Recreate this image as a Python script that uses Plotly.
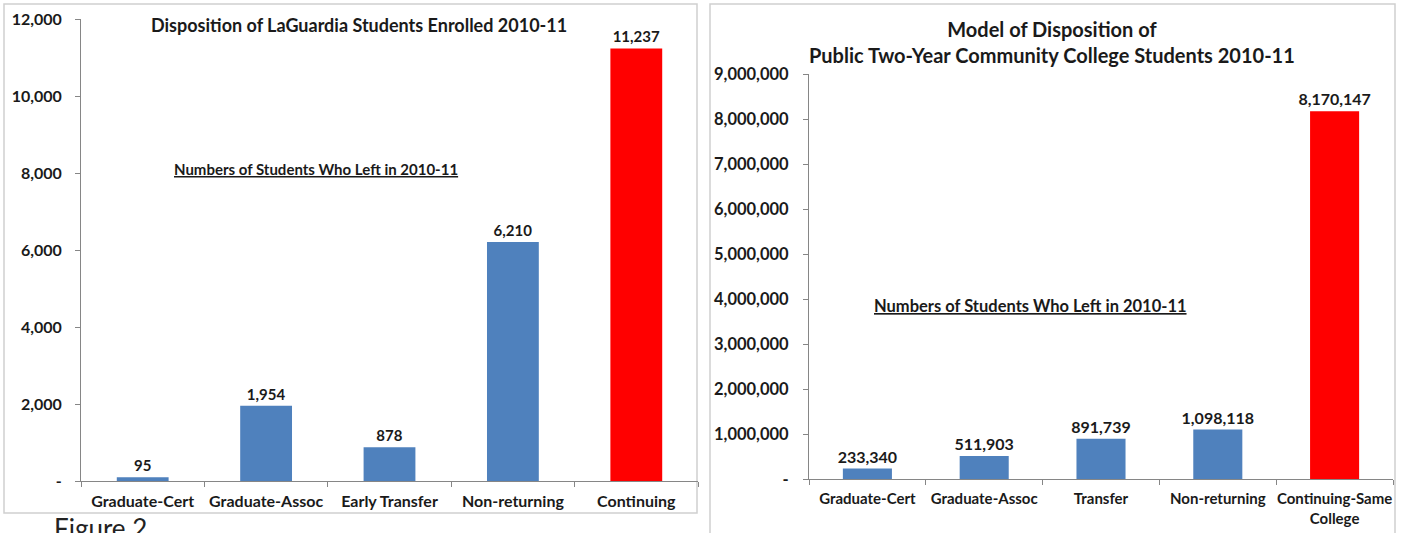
import plotly.graph_objects as go

# ---- data ----
left_categories = ["Graduate-Cert", "Graduate-Assoc", "Early Transfer", "Non-returning", "Continuing"]
left_values = [95, 1954, 878, 6210, 11237]
left_tickvals = [0, 2000, 4000, 6000, 8000, 10000, 12000]
left_ticktext = ["-", "2,000", "4,000", "6,000", "8,000", "10,000", "12,000"]

right_categories = ["Graduate-Cert", "Graduate-Assoc", "Transfer", "Non-returning", "Continuing-Same<br>College"]
right_values = [233340, 511903, 891739, 1098118, 8170147]
right_tickvals = [0, 1000000, 2000000, 3000000, 4000000, 5000000, 6000000, 7000000, 8000000, 9000000]
right_ticktext = ["-", "1,000,000", "2,000,000", "3,000,000", "4,000,000", "5,000,000",
                  "6,000,000", "7,000,000", "8,000,000", "9,000,000"]

left_title = "Disposition of LaGuardia Students Enrolled 2010-11"
right_title = "Model of Disposition of<br>Public Two-Year Community College Students 2010-11"
note_text = "Numbers of Students Who Left in 2010-11"
figure_caption = "Figure 2"

W, H = 1407, 533
BLUE = "#4F81BD"
RED = "#FF0000"
FONT = "Lato"
TXT = "#1a1a1a"

def px(x):
    return x / W

def py(y):
    return 1 - y / H

left_colors = [BLUE] * (len(left_values) - 1) + [RED]
right_colors = [BLUE] * (len(right_values) - 1) + [RED]

fig = go.Figure()
fig.add_trace(go.Bar(
    x=left_categories, y=left_values, xaxis="x", yaxis="y",
    marker=dict(color=left_colors, line=dict(width=0)),
    texttemplate="%{y:,}", textposition="outside", cliponaxis=False,
    constraintext="none",
    textfont=dict(family=FONT, size=15, color=TXT, weight="bold"),
    showlegend=False,
))
fig.add_trace(go.Bar(
    x=right_categories, y=right_values, xaxis="x2", yaxis="y2",
    marker=dict(color=right_colors, line=dict(width=0)),
    texttemplate="%{y:,}", textposition="outside", cliponaxis=False,
    constraintext="none",
    textfont=dict(family=FONT, size=16, color=TXT, weight="bold"),
    showlegend=False,
))

axis_common = dict(showline=True, linecolor="#868686", linewidth=1, showgrid=False,
                   zeroline=False, ticks="outside", tickcolor="#868686", ticklen=5,
                   automargin=False, tickangle=0)

fig.update_layout(
    width=W, height=H,
    margin=dict(l=0, r=0, t=0, b=0, autoexpand=False),
    paper_bgcolor="white", plot_bgcolor="white",
    bargap=0.58,
    font=dict(family=FONT, color=TXT),
    xaxis=dict(domain=[px(81), px(698)], anchor="y", tickson="boundaries",
               tickfont=dict(family=FONT, size=16, color=TXT, weight="bold"),
               ticklabelstandoff=6,
               **axis_common),
    yaxis=dict(domain=[py(481), py(19)], anchor="x", range=[0, 12000],
               tickvals=left_tickvals, ticktext=left_ticktext,
               ticklabelstandoff=10,
               tickfont=dict(family=FONT, size=16, color=TXT, weight="bold"),
               **axis_common),
    xaxis2=dict(domain=[px(809), px(1393)], anchor="y2", tickson="boundaries",
                tickfont=dict(family=FONT, size=15, color=TXT, weight="bold"),
                ticklabelstandoff=6,
                **axis_common),
    yaxis2=dict(domain=[py(479), py(74)], anchor="x2", range=[0, 9000000],
                tickvals=right_tickvals, ticktext=right_ticktext,
                ticklabelstandoff=11,
                tickfont=dict(family=FONT, size=16.5, color=TXT, weight="bold"),
                **axis_common),
    shapes=[
        dict(type="rect", xref="paper", yref="paper", x0=px(4), x1=px(697), y0=py(513), y1=py(4),
             line=dict(color="#d0d0d0", width=1.5), layer="below"),
        dict(type="rect", xref="paper", yref="paper", x0=px(710), x1=px(1395), y0=py(545), y1=py(4),
             line=dict(color="#d0d0d0", width=1.5), layer="below"),
    ],
    annotations=[
        dict(text=f"<b>{left_title}</b>", xref="paper", yref="paper", x=px(359), y=py(25),
             xanchor="center", yanchor="middle", showarrow=False,
             font=dict(family=FONT, size=18, color=TXT)),
        dict(text=f"<b>{right_title}</b>", xref="paper", yref="paper", x=px(1052), y=py(42),
             xanchor="center", yanchor="middle", showarrow=False,
             font=dict(family=FONT, size=20, color=TXT)),
        dict(text=f"<u><b>{note_text}</b></u>", xref="paper", yref="paper", x=px(316), y=py(169),
             xanchor="center", yanchor="middle", showarrow=False,
             font=dict(family=FONT, size=15, color=TXT)),
        dict(text=f"<u><b>{note_text}</b></u>", xref="paper", yref="paper", x=px(1030), y=py(306),
             xanchor="center", yanchor="middle", showarrow=False,
             font=dict(family=FONT, size=16.5, color=TXT)),
        dict(text=figure_caption, xref="paper", yref="paper", x=px(52), y=py(510),
             xanchor="left", yanchor="top", showarrow=False,
             font=dict(family=FONT, size=26, color="#222222")),
    ],
)

fig.write_html(
    "out.html",
    config={"displayModeBar": False},
    post_script="document.body.style.margin='0';document.body.style.overflow='hidden';",
)
